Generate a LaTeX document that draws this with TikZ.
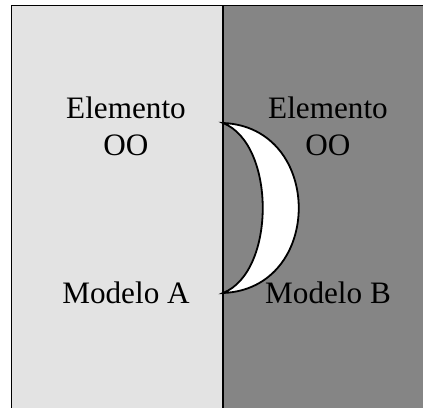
\documentclass[tikz,border=0pt]{standalone}
\usepackage{fontspec}
\setmainfont{Liberation Serif}
\definecolor{panelA}{RGB}{227,227,227}
\definecolor{panelB}{RGB}{133,133,133}
\begin{document}
\begin{tikzpicture}[x=0.5pt,y=-0.5pt,
  every node/.style={font=\fontsize{15.6}{18.5}\selectfont,inner sep=0pt,anchor=base},
  edge/.style={draw=black,line width=0.9pt},
]
\useasboundingbox (0,0) rectangle (423,407);
\clip (0,0) rectangle (423,407);
\fill[white] (0,0) rectangle (423,407);
\fill[panelA] (11.5,5.5) rectangle (223,420);
\fill[panelB] (223,5.5) rectangle (430,420);
\draw[edge] (11.5,420) -- (11.5,5.5) -- (430,5.5);
\draw[edge] (223,5.5) -- (223,420);
% crescent between the two models
\coordinate (tipT) at (223,123); \coordinate (tipB) at (223,293);
\draw[edge,fill=white] (tipT) .. controls (324,127) and (324,289) .. (tipB)
  .. controls (276,272) and (276,144) .. (tipT) -- cycle;
\node(elA) at(126,118){Elemento}; \node(ooA) at(126,155){OO};
\node(elB) at(328,118){Elemento}; \node(ooB) at(328,155){OO};
\node(modA) at(126,303){Modelo A}; \node(modB) at(328,303){Modelo B};
\end{tikzpicture}
\end{document}
